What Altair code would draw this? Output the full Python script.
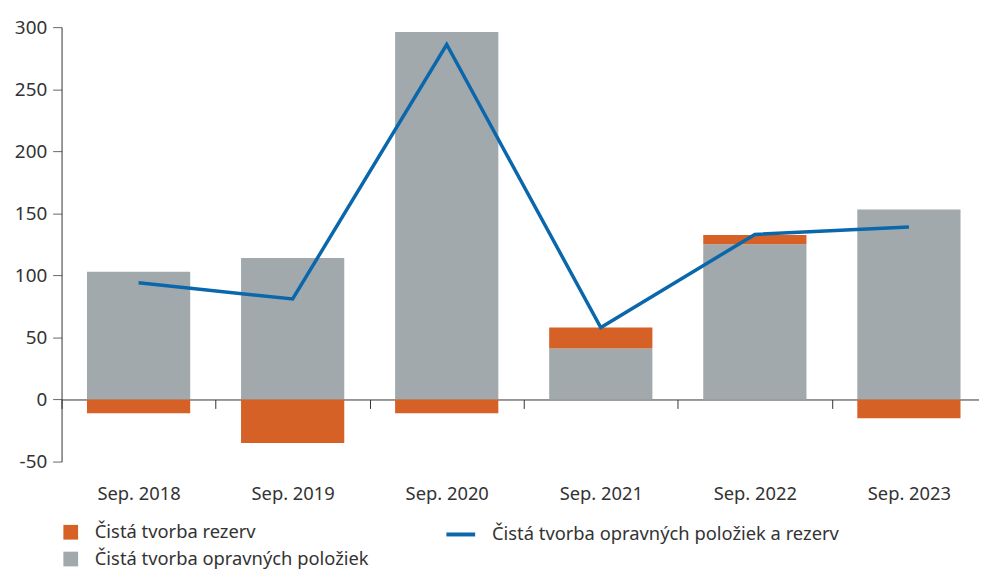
import altair as alt
import pandas as pd

categories = ["Sep. 2018", "Sep. 2019", "Sep. 2020", "Sep. 2021", "Sep. 2022", "Sep. 2023"]
opravne = [103, 114, 296, 41, 125, 153]          # Čistá tvorba opravných položiek (gray)
rezervy = [-11, -35, -11, 17, 7.5, -15]          # Čistá tvorba rezerv (orange)
spolu = [94, 81, 286, 58, 133, 139]              # Čistá tvorba opravných položiek a rezerv (line)

S_GRAY = "Čistá tvorba opravných položiek"
S_ORANGE = "Čistá tvorba rezerv"
S_LINE = "Čistá tvorba opravných položiek a rezerv"

bars = pd.DataFrame(
    [{"cat": c, "series": S_GRAY, "value": v, "ord": 0} for c, v in zip(categories, opravne)]
    + [{"cat": c, "series": S_ORANGE, "value": v, "ord": 1} for c, v in zip(categories, rezervy)]
)
line = pd.DataFrame({"cat": categories, "value": spolu, "series": [S_LINE] * len(categories)})

FONT = "Noto Sans"
TXT = "#333333"

x_scale = alt.Scale(paddingInner=0, paddingOuter=0)

x = alt.X(
    "cat:N",
    sort=categories,
    title=None,
    scale=x_scale,
    axis=alt.Axis(
        offset=-62.6,
        tickBand="extent",
        tickSize=9,
        tickColor="#333333",
        domainColor="#333333",
        grid=False,
        labelPadding=77,
        labelFontSize=18.5,
        labelFont=FONT,
        labelColor=TXT,
        labelAngle=0,
    ),
)

y_scale = alt.Scale(domain=[-50, 300], nice=False, zero=True)
y_axis = alt.Axis(
    values=[-50, 0, 50, 100, 150, 200, 250, 300],
    grid=False,
    tickSize=9,
    tickColor="#666666",
    domainColor="#333333",
    labelPadding=6,
    labelFontSize=19,
    labelFont=FONT,
    labelColor=TXT,
    labelExpr="'' + datum.value",
)

bar_layer = alt.Chart(bars).mark_bar(width=alt.RelativeBandSize(0.67)).encode(
    x=x,
    y=alt.Y("value:Q", stack="zero", scale=y_scale, axis=y_axis, title=None),
    color=alt.Color(
        "series:N",
        scale=alt.Scale(domain=[S_ORANGE, S_GRAY], range=["#D56127", "#A2A9AC"]),
        legend=alt.Legend(
            title=None,
            orient="none",
            legendX=0,
            legendY=500,
            direction="vertical",
            symbolType="square",
            symbolSize=220,
            symbolStrokeWidth=0,
            labelFontSize=18.5,
            labelFont=FONT,
            labelColor=TXT,
            labelOffset=15,
            labelLimit=0,
            rowPadding=8,
            padding=0,
        ),
    ),
    order=alt.Order("ord:Q"),
)

line_layer = alt.Chart(line).mark_line(strokeWidth=3.5).encode(
    x=alt.X("cat:N", sort=categories),
    y=alt.Y("value:Q", scale=y_scale),
    stroke=alt.Stroke(
        "series:N",
        scale=alt.Scale(domain=[S_LINE], range=["#0A67AB"]),
        legend=alt.Legend(
            title=None,
            orient="none",
            legendX=386,
            legendY=495,
            symbolType="stroke",
            symbolSize=840,
            symbolStrokeWidth=4,
            labelFontSize=18.5,
            labelFont=FONT,
            labelColor=TXT,
            labelOffset=15,
            labelLimit=0,
            padding=0,
        ),
    ),
)

chart = (
    alt.layer(bar_layer, line_layer)
    .resolve_scale(color="independent")
    .properties(
        width=932,
        height=438,
        autosize=alt.AutoSizeParams(type="none"),
        padding={"left": 54, "top": 17, "right": -7, "bottom": 106},
        background="white",
    )
    .configure_view(strokeWidth=0, stroke="transparent")
    .configure_axis(grid=False)
)

chart.save("out.html", embed_options={"renderer": "svg", "actions": False})
